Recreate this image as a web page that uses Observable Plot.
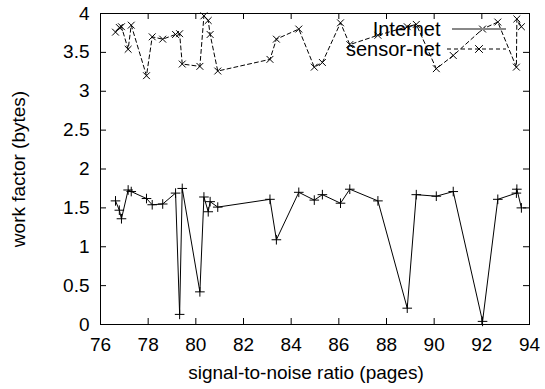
<!DOCTYPE html>
<html>
<head>
<meta charset="utf-8">
<script src="https://cdn.jsdelivr.net/npm/d3@7"></script>
<script src="https://cdn.jsdelivr.net/npm/@observablehq/plot@0.6"></script>
<style>
  html, body { margin: 0; padding: 0; background: #fff; }
  #chart { width: 545px; height: 389px; }
</style>
</head>
<body>
<div id="chart"></div>
<script>
const xValues = [76.63, 76.79, 76.88, 77.16, 77.29, 77.93, 78.17, 78.61, 79.15, 79.32, 79.43, 80.17, 80.34, 80.52, 80.60, 80.92, 83.11, 83.38, 84.32, 84.97, 85.31, 86.07, 86.46, 87.64, 88.87, 89.25, 90.09, 90.80, 92.03, 92.67, 93.45, 93.47, 93.66];
const internetY = [1.59, 1.47, 1.36, 1.73, 1.71, 1.62, 1.54, 1.55, 1.69, 0.13, 1.75, 0.42, 1.64, 1.45, 1.58, 1.51, 1.61, 1.09, 1.70, 1.60, 1.67, 1.56, 1.74, 1.59, 0.21, 1.67, 1.65, 1.71, 0.04, 1.61, 1.69, 1.74, 1.50];
const sensorY = [3.76, 3.82, 3.83, 3.54, 3.85, 3.20, 3.70, 3.67, 3.73, 3.74, 3.35, 3.32, 3.97, 3.91, 3.73, 3.26, 3.41, 3.67, 3.80, 3.31, 3.37, 3.88, 3.60, 3.72, 3.83, 3.86, 3.29, 3.46, 3.80, 3.89, 3.31, 3.93, 3.83];
const seriesNames = ["Internet", "sensor-net"];
const xTicks = [76, 78, 80, 82, 84, 86, 88, 90, 92, 94];
const yTicks = [0, 0.5, 1, 1.5, 2, 2.5, 3, 3.5, 4];
const xLabel = "signal-to-noise ratio (pages)";
const yLabel = "work factor (bytes)";

const internet = xValues.map((x, i) => ({x, y: internetY[i]}));
const sensor = xValues.map((x, i) => ({x, y: sensorY[i]}));

const W = 545, H = 389, mL = 100, mR = 16, mT = 13, mB = 65;
const innerH = H - mT - mB;
const innerW = W - mL - mR;
const tick = 6;
const fs = 19;
const font = "'Liberation Sans', Arial, Helvetica, sans-serif";

const chart = Plot.plot({
  width: W,
  height: H,
  marginLeft: mL,
  marginRight: mR,
  marginTop: mT,
  marginBottom: mB,
  style: {fontFamily: font, fontSize: fs + "px", color: "#000", background: "#fff", overflow: "visible"},
  x: {domain: [76, 94]},
  y: {domain: [0, 4]},
  marks: [
    Plot.axisX({ticks: xTicks, tickSize: 0, tickPadding: 13, tickFormat: d => String(d), fontSize: fs, label: null}),
    Plot.axisY({ticks: yTicks, tickSize: 0, tickPadding: 11, tickFormat: d => String(d), fontSize: fs, label: null}),
    Plot.ruleX(xTicks, {x: d => d, insetTop: innerH - tick, stroke: "#000", strokeWidth: 1}),
    Plot.ruleX(xTicks, {x: d => d, insetBottom: innerH - tick, stroke: "#000", strokeWidth: 1}),
    Plot.ruleY(yTicks, {y: d => d, insetRight: innerW - tick, stroke: "#000", strokeWidth: 1}),
    Plot.ruleY(yTicks, {y: d => d, insetLeft: innerW - tick, stroke: "#000", strokeWidth: 1}),
    Plot.frame({stroke: "#000", strokeWidth: 1}),
    Plot.line(internet, {x: "x", y: "y", stroke: "#000", strokeWidth: 1}),
    Plot.dot(internet, {x: "x", y: "y", symbol: "plus", r: 3.2, stroke: "#000", strokeWidth: 1}),
    Plot.line(sensor, {x: "x", y: "y", stroke: "#000", strokeWidth: 1, strokeDasharray: "4,3"}),
    Plot.dot(sensor, {x: "x", y: "y", symbol: "times", r: 3.2, stroke: "#000", strokeWidth: 1}),
    Plot.text([xLabel], {frameAnchor: "bottom", lineAnchor: "middle", dx: -9, dy: 48, text: d => d, fontSize: fs, fill: "#000"}),
    Plot.text([yLabel], {frameAnchor: "left", lineAnchor: "middle", textAnchor: "middle", dx: -82, rotate: -90, text: d => d, fontSize: fs, fill: "#000"}),
    Plot.text([seriesNames[0]], {frameAnchor: "top-right", lineAnchor: "middle", dx: -89, dy: 16, textAnchor: "end", text: d => d, fontSize: fs + 1, fill: "#000"}),
    Plot.text([seriesNames[1]], {frameAnchor: "top-right", lineAnchor: "middle", dx: -89, dy: 36, textAnchor: "end", text: d => d, fontSize: fs + 1, fill: "#000"})
  ]
});

const svg = d3.select(chart);
svg.append("line").attr("x1", 452).attr("x2", 506).attr("y1", 29).attr("y2", 29)
  .attr("stroke", "#888").attr("stroke-width", 1.8);
svg.append("line").attr("x1", 447).attr("x2", 506).attr("y1", 49).attr("y2", 49)
  .attr("stroke", "#000").attr("stroke-width", 1).attr("stroke-dasharray", "4,3");
svg.append("path").attr("d", d3.symbol(d3.symbolTimes, 40)())
  .attr("transform", "translate(479,49)").attr("fill", "none").attr("stroke", "#000");

document.getElementById("chart").appendChild(chart);
</script>
</body>
</html>
